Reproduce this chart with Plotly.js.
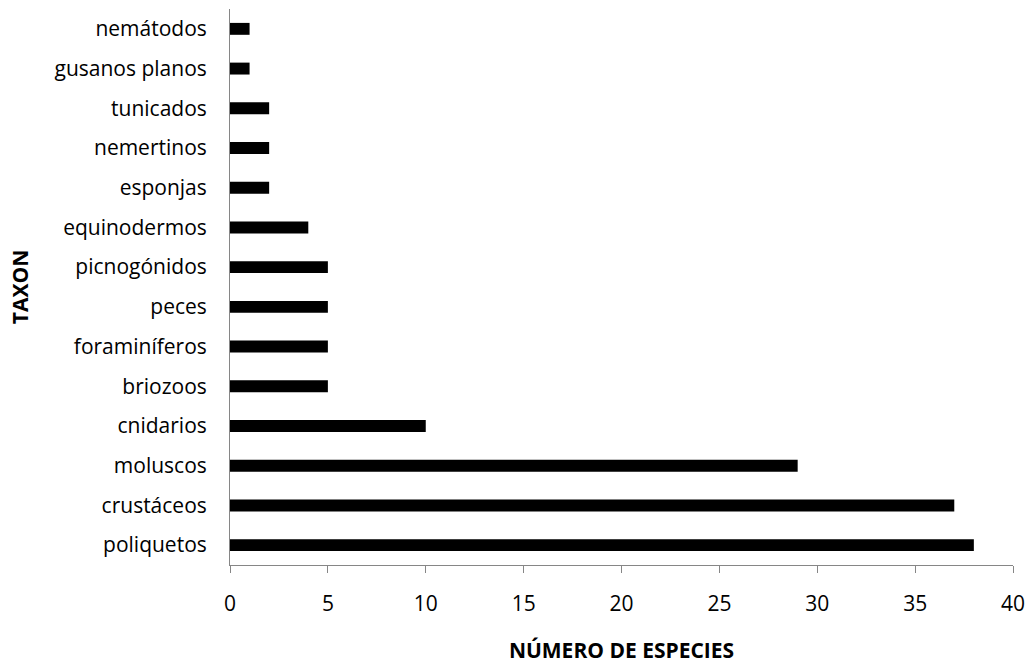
<!DOCTYPE html>
<html>
<head>
<meta charset="utf-8">
<script src="https://cdn.plot.ly/plotly-3.0.1.min.js"></script>
<style>html,body{margin:0;padding:0;background:#fff;}#chart{width:1032px;height:664px;}</style>
</head>
<body>
<div id="chart"></div>
<script>
const taxa = ["poliquetos","crustáceos","moluscos","cnidarios","briozoos","foraminíferos","peces","picnogónidos","equinodermos","esponjas","nemertinos","tunicados","gusanos planos","nemátodos"];
const especies = [38,37,29,10,5,5,5,5,4,2,2,2,1,1];
const xTicks = [0,5,10,15,20,25,30,35,40];

const font = "Open Sans, sans-serif";
Plotly.newPlot("chart", [{
  type: "bar",
  orientation: "h",
  x: especies,
  y: taxa,
  width: 0.3,
  marker: {color: "#000000"},
  hoverinfo: "x+y"
}], {
  width: 1032, height: 664,
  margin: {l: 230, r: 19, t: 9, b: 99},
  paper_bgcolor: "#fff", plot_bgcolor: "#fff",
  showlegend: false,
  font: {family: font, size: 21, color: "#000"},
  xaxis: {
    range: [0, 40],
    tickvals: xTicks,
    ticks: "outside", ticklen: 7, tickcolor: "#868686", tickwidth: 1,
    showline: true, linecolor: "#868686", linewidth: 1,
    showgrid: false, zeroline: false,
    ticklabelstandoff: 13,
    tickfont: {family: font, size: 21, color: "#000"},
    title: {text: "<b>NÚMERO DE ESPECIES</b>", font: {family: font, size: 21, color: "#000"}, standoff: 28}
  },
  yaxis: {
    type: "category",
    categoryorder: "array", categoryarray: taxa,
    range: [-0.5, 13.5],
    showline: true, linecolor: "#868686", linewidth: 1,
    ticks: "", showgrid: false, zeroline: false,
    ticklabelstandoff: 18,
    tickfont: {family: font, size: 21, color: "#000"}
  },
  annotations: [{
    text: "<b>TAXON</b>", textangle: -90,
    xref: "paper", yref: "paper", x: -0.268, y: 0.5,
    xanchor: "center", yanchor: "middle", showarrow: false,
    font: {family: font, size: 21, color: "#000"}
  }]
}, {displayModeBar: false});
</script>
</body>
</html>
